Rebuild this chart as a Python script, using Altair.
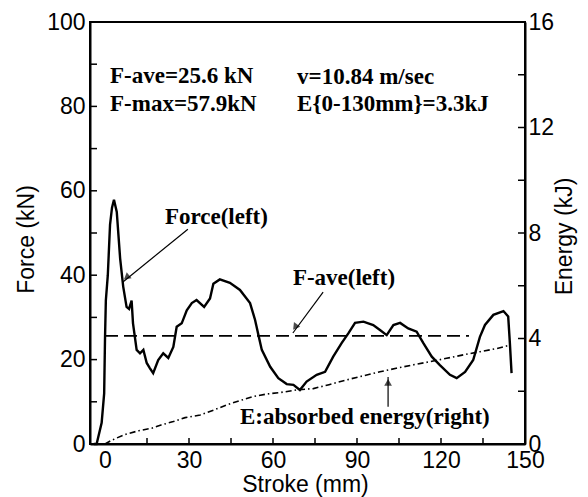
import altair as alt
import pandas as pd

# ---------------- data ----------------
stroke_f = [-4, -3, -1.2, -0.3, 0.0, 0.3, 1.0, 1.8, 2.5, 3.2, 4.2, 5.4, 6.5, 7.7, 8.6, 9.5,
            10.0, 11.3, 12.5, 13.7, 14.9, 16.0, 17.2, 19.0, 20.8, 22.6, 24.4, 25.6, 27.4,
            29.2, 31.0, 32.7, 35.4, 37.5, 38.7, 41.0, 44.6, 48.2, 51.8, 53.6, 54.8, 56.0,
            59.0, 61.9, 64.9, 67.3, 69.6, 72.0, 75.6, 78.6, 81.5, 84.5, 86.9, 89.3, 92.3,
            95.8, 98.2, 100.6, 103.0, 105.4, 108.3, 111.3, 113.7, 116.7, 119.6, 123.2,
            125.6, 128.6, 131.5, 133.9, 135.7, 138.7, 142.3, 144.0, 144.6, 145.2]
force = [0, 0, 5, 12, 25, 34, 40, 52, 56, 57.9, 55, 44, 37.3, 32.5, 32, 34,
         28.6, 22.3, 21.5, 22.3, 19.2, 18, 16.8, 19.9, 21.5, 20.4, 23, 27.8, 28.6,
         31.7, 33.4, 34.1, 32.5, 34.5, 38, 39, 38.2, 36.5, 33.4, 29.4, 25.8, 22.3,
         18.3, 15.6, 14.2, 14, 12.8, 14.8, 16.4, 17.1, 20.7, 23.9, 26.2, 28.7, 29,
         28.2, 27, 25.8, 28.2, 28.7, 27.4, 26.6, 23.9, 20.7, 18.7, 16.4,
         15.6, 17.1, 19.9, 25.4, 28.2, 30.6, 31.5, 30.2, 23.9, 16.8]

stroke_e = [0, 2, 4, 7.7, 12, 16.7, 20, 24.4, 28.6, 34, 38.7, 43.4, 48, 53, 58, 62.5,
            68.5, 74.4, 80, 86.3, 92, 98.2, 104, 110, 116, 122, 128, 134, 140, 144.6]
energy = [0, 0.12, 0.22, 0.38, 0.5, 0.6, 0.72, 0.85, 1.0, 1.1, 1.28, 1.48, 1.64, 1.8,
          1.9, 1.95, 2.05, 2.1, 2.25, 2.43, 2.58, 2.74, 2.87, 3.0, 3.12, 3.25, 3.38,
          3.5, 3.62, 3.75]

f_ave = 25.6
f_ave_range = [0, 130]

x_ticks = [0, 30, 60, 90, 120, 150]
x_minor = [15, 30, 45, 60, 75, 90, 105, 120, 135]
f_ticks = [0, 20, 40, 60, 80, 100]
f_minor = [10, 20, 30, 40, 50, 60, 70, 80, 90]
e_ticks = [0, 4, 8, 12, 16]
e_minor = [2, 4, 6, 8, 10, 12, 14]

note_text = ["F-ave=25.6 kN", "F-max=57.9kN", "v=10.84 m/sec", "E{0-130mm}=3.3kJ",
             "Force(left)", "F-ave(left)", "E:absorbed energy(right)"]
note_s = [1.8, 1.8, 68.6, 68.6, 21.4, 67.1, 48.2]
note_f = [87.2, 80.6, 87.0, 80.6, 53.8, 39.3, 6.3]

# arrows: start (s, F) -> tip (s, F), in force-axis units
arr_s = [29.6, 77.9, 101.1]
arr_f = [50.9, 36.0, 8.8]
arr_s2 = [6.4, 67.1, 101.1]
arr_f2 = [38.4, 26.3, 15.9]
# arrowhead centres (a little behind the tips) and their rotation
head_s = [7.7, 67.9, 101.1]
head_f = [39.5, 27.7, 14.6]
head_angle = [231, 216, 0]

XDOM = [-5.36, 150]
FDOM = [0, 100]
EDOM = [0, 16]

df_force = pd.DataFrame({"s": stroke_f, "F": force})
df_energy = pd.DataFrame({"s": stroke_e, "E": energy})
df_fave = pd.DataFrame({"s": [f_ave_range[0]], "s2": [f_ave_range[1]], "F": [f_ave]})
df_notes = pd.DataFrame({"s": note_s, "F": note_f, "t": note_text})
df_arr = pd.DataFrame({"s": arr_s, "F": arr_f, "s2": arr_s2, "F2": arr_f2})
df_head = pd.DataFrame({"s": head_s, "F": head_f, "ang": head_angle})
df_xminor = pd.DataFrame({"s": x_minor})
df_fminor = pd.DataFrame({"F": f_minor})
df_eminor = pd.DataFrame({"E": e_minor})

W, H = 435, 422
AXF = "Liberation Sans"
TXF = "Liberation Serif"

xs = alt.Scale(domain=XDOM, nice=False, zero=False)
fs = alt.Scale(domain=FDOM, nice=False)
es = alt.Scale(domain=EDOM, nice=False)

x_axis = alt.Axis(values=x_ticks, title="Stroke (mm)", ticks=False, tickSize=0,
                  labelPadding=5, labelFlush=False, grid=False,
                  domainColor="black", domainWidth=2,
                  labelFont=AXF, labelFontSize=23, labelColor="black",
                  titleFont=AXF, titleFontSize=23, titleFontWeight="normal",
                  titleColor="black", titleX=215, titleY=40, titleBaseline="middle")
f_axis = alt.Axis(values=f_ticks, title="Force (kN)", ticks=False, tickSize=0,
                  labelPadding=5, grid=False, domainColor="black", domainWidth=2,
                  labelFont=AXF, labelFontSize=23, labelColor="black",
                  titleFont=AXF, titleFontSize=23, titleFontWeight="normal",
                  titleColor="black", titleX=-64, titleY=217, titleAngle=270,
                  titleBaseline="middle", titleAlign="center")
e_axis = alt.Axis(values=e_ticks, title="Energy (kJ)", orient="right", ticks=False,
                  tickSize=0, labelPadding=3, grid=False, domainColor="black",
                  domainWidth=2, labelFont=AXF, labelFontSize=23, labelColor="black",
                  titleFont=AXF, titleFontSize=23, titleFontWeight="normal",
                  titleColor="black", titleX=39, titleY=214, titleAngle=270,
                  titleBaseline="middle", titleAlign="center")

force_line = alt.Chart(df_force).mark_line(color="black", strokeWidth=2.4).encode(
    x=alt.X("s:Q", scale=xs, axis=x_axis),
    y=alt.Y("F:Q", scale=fs, axis=f_axis),
)
fave_line = alt.Chart(df_fave).mark_rule(color="black", strokeWidth=1.8,
                                         strokeDash=[13, 6]).encode(
    x=alt.X("s:Q", scale=xs), x2="s2:Q", y=alt.Y("F:Q", scale=fs))
notes = alt.Chart(df_notes).mark_text(font=TXF, fontSize=23, fontWeight="bold",
                                      align="left", baseline="middle",
                                      color="black").encode(
    x=alt.X("s:Q", scale=xs), y=alt.Y("F:Q", scale=fs), text="t:N")
arrow_lines = alt.Chart(df_arr).mark_rule(color="black", strokeWidth=1.2).encode(
    x=alt.X("s:Q", scale=xs), y=alt.Y("F:Q", scale=fs), x2="s2:Q", y2="F2:Q")
arrow_heads = alt.Chart(df_head).mark_point(shape="triangle-up", filled=True,
                                            size=60, color="black").encode(
    x=alt.X("s:Q", scale=xs), y=alt.Y("F:Q", scale=fs),
    angle=alt.Angle("ang:Q", scale=None))
x_minor_ticks = alt.Chart(df_xminor).mark_rule(color="black", strokeWidth=1.5).encode(
    x=alt.X("s:Q", scale=xs), y=alt.value(H), y2=alt.value(H - 6))
f_minor_ticks = alt.Chart(df_fminor).mark_rule(color="black", strokeWidth=1.5).encode(
    y=alt.Y("F:Q", scale=fs), x=alt.value(0), x2=alt.value(7))

left = alt.layer(force_line, fave_line, arrow_lines, arrow_heads, notes,
                 x_minor_ticks, f_minor_ticks)

energy_line = alt.Chart(df_energy).mark_line(color="black", strokeWidth=1.6,
                                             strokeDash=[6, 3, 1.5, 3]).encode(
    x=alt.X("s:Q", scale=xs), y=alt.Y("E:Q", scale=es, axis=e_axis))
e_minor_ticks = alt.Chart(df_eminor).mark_rule(color="black", strokeWidth=1.5).encode(
    y=alt.Y("E:Q", scale=es), x=alt.value(W), x2=alt.value(W - 7))
right = alt.layer(energy_line, e_minor_ticks)

chart = alt.layer(left, right).resolve_scale(y="independent").properties(
    width=W, height=H,
    autosize=alt.AutoSizeParams(type="none"),
    padding={"left": 90, "top": 22, "right": 63, "bottom": 53},
    background="white",
).configure_view(stroke="black", strokeWidth=2)

chart.save("out.html", embed_options={"renderer": "svg", "actions": False})
